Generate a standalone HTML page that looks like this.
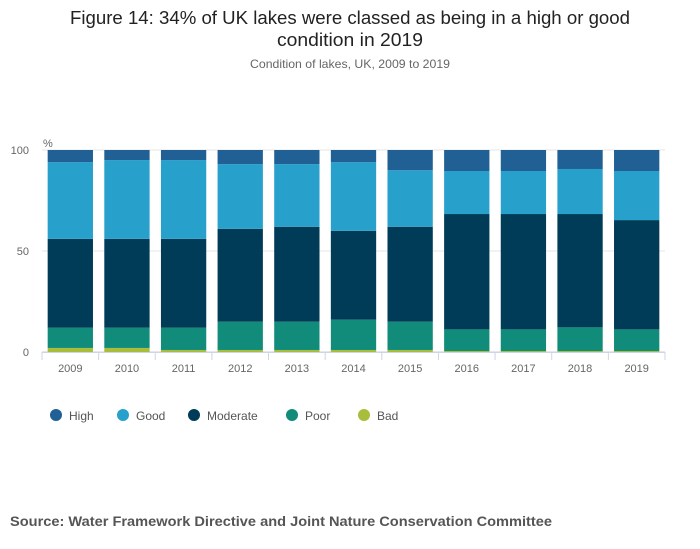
<!DOCTYPE html>
<html><head><meta charset="utf-8"><style>
body{margin:0;background:#fff;font-family:"Liberation Sans",sans-serif}
</style></head><body>
<svg id="chart" width="700" height="549" style="display:block">
<text x="350" y="24" text-anchor="middle" font-size="18" fill="#222" textLength="560" lengthAdjust="spacingAndGlyphs">Figure 14: 34% of UK lakes were classed as being in a high or good</text>
<text x="350" y="46" text-anchor="middle" font-size="18" fill="#222" textLength="146" lengthAdjust="spacingAndGlyphs">condition in 2019</text>
<text x="350" y="68" text-anchor="middle" font-size="12" fill="#666" textLength="200" lengthAdjust="spacingAndGlyphs">Condition of lakes, UK, 2009 to 2019</text>
<text x="43" y="147" font-size="11" fill="#666">%</text>
<g id="grid"></g><g id="bars"></g><g id="axis"></g><g id="legend"></g>
<text x="10" y="526" font-size="14" font-weight="bold" fill="#555" textLength="542" lengthAdjust="spacingAndGlyphs">Source: Water Framework Directive and Joint Nature Conservation Committee</text>
</svg>
<script>
const years=["2009","2010","2011","2012","2013","2014","2015","2016","2017","2018","2019"];
const bad=[2,2,1,1,1,1,1,0.5,0.5,0.5,0.5];
const poor=[10,10,11,14,14,15,14,10.7,10.7,11.7,10.7];
const moderate=[44,44,44,46,47,44,47,57.1,57.1,56.1,54.1];
const good=[38,39,39,32,31,34,28,21.3,21.3,22.3,24.3];
const high=[6,5,5,7,7,6,10,10.4,10.4,9.4,10.4];
const yTicks=[0,50,100];
const series=[["Bad",bad,"#a8bd3a"],["Poor",poor,"#118c7b"],["Moderate",moderate,"#003c57"],["Good",good,"#27a0cc"],["High",high,"#206095"]];
const NS="http://www.w3.org/2000/svg";
const x0=42,x1=665,yb=352,yt=150;
const band=(x1-x0)/years.length;
const y=v=>yb-(v/100)*(yb-yt);
const xb=i=>x0+i*band;
function mk(t,a,p){const e=document.createElementNS(NS,t);for(const k in a)e.setAttribute(k,a[k]);p.appendChild(e);return e;}
const grid=document.getElementById('grid');
yTicks.forEach(t=>{
 const l=mk('line',{x1:x0,x2:x1,y1:y(t),y2:y(t),stroke:t==0?'#ccd':'#e6e6e6'},grid);
 
 
 const tx=mk('text',{x:29,y:y(t)+4,'text-anchor':'end','font-size':11,fill:'#666'},grid);
 tx.textContent=t;
 
 
});
const bars=document.getElementById('bars');
const bw=band*0.8;
years.forEach((yr,i)=>{
 let c=0;
 series.forEach(([n,arr,col])=>{
  const v=arr[i];
  const r=mk('rect',{x:xb(i)+(band-bw)/2,y:y(c+v),width:bw,height:y(c)-y(c+v),fill:col},bars);
  
  
  c+=v;
 });
});
const ax=document.getElementById('axis');
mk('line',{x1:x0,x2:x1,y1:yb+0.5,y2:yb+0.5,stroke:'#ccd6e6'},ax);
for(let i=0;i<=years.length;i++){
 mk('line',{x1:xb(i),x2:xb(i),y1:yb,y2:yb+8,stroke:'#ccd6e6'},ax);
}
years.forEach((yr,i)=>{
 const t=mk('text',{x:xb(i)+band/2,y:372,'text-anchor':'middle','font-size':11,fill:'#666'},ax);
 t.textContent=yr;
 
 
});
const lg=document.getElementById('legend');
const lx=[56,123,194,292,364];
["High","Good","Moderate","Poor","Bad"].forEach((n,i)=>{
 const col=series.find(s=>s[0]==n)[2];
 const g=mk('g',{},lg);
 
 
 mk('circle',{cx:lx[i],cy:415,r:6,fill:col},g);
 const t=mk('text',{x:lx[i]+13,y:420,'font-size':12,fill:'#555'},g);
 t.textContent=n;
});
</script>
</body></html>
